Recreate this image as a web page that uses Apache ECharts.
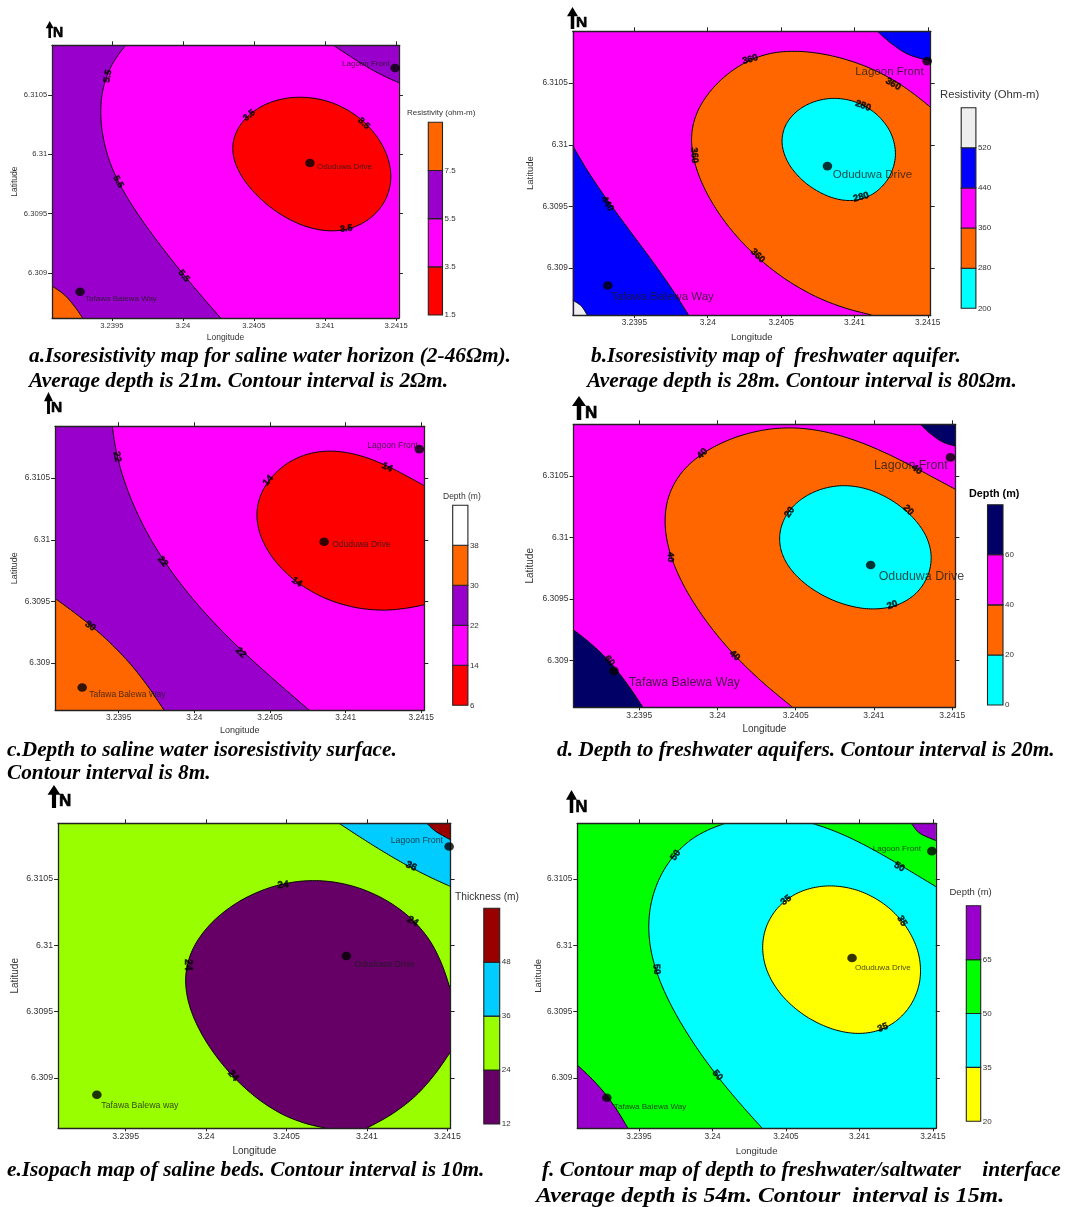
<!DOCTYPE html>
<html><head><meta charset="utf-8">
<style>html,body{margin:0;padding:0;background:#fff}#c{width:1067px;height:1207px}</style>
<script src="https://cdn.jsdelivr.net/npm/echarts@6/dist/echarts.min.js"></script>
</head><body><div id="c"></div>
<script>
const lonMin=3.23908, lonMax=3.24152, latMin=6.30862, latMax=6.31092;
const lonTicks=[3.2395,3.24,3.2405,3.241,3.2415];
const latTicks=[6.309,6.3095,6.31,6.3105];
const TL=[lonMin,latMax], TR=[lonMax,latMax], BR=[lonMax,latMin], BL=[lonMin,latMin];

/* ---- a ---- */
const aBreaks=[1.5,3.5,5.5,7.5,9.5];
const aColors=['#ff0000','#ff00ff','#9900cc','#ff6600'];
const aLeft=[[3.239597,6.31092],[3.239524,6.310823],[3.239464,6.310669],[3.239431,6.310486],[3.239424,6.310346],[3.239441,6.310149],[3.239481,6.309952],[3.239547,6.30977],[3.239654,6.309545],[3.239784,6.309334],[3.239974,6.309025],[3.240116,6.308828],[3.240266,6.30862]];
const aCorner=[[3.241059,6.31092],[3.241183,6.310823],[3.241301,6.310739],[3.241396,6.31066],[3.24152,6.310604]];
const aPatch=[[3.23908,6.30889],[3.239168,6.308814],[3.239239,6.308716],[3.239294,6.30862]];
const aCore=[[3.240356,6.310022],[3.240377,6.310163],[3.24046,6.310332],[3.24059,6.310436],[3.240804,6.310483],[3.240993,6.310458],[3.241183,6.31036],[3.241325,6.310205],[3.241432,6.310008],[3.241467,6.309812],[3.241432,6.309615],[3.241325,6.309475],[3.241183,6.309385],[3.241041,6.309357],[3.240851,6.309396],[3.240661,6.309503],[3.240495,6.309685],[3.240389,6.309882]];
const aSites=[[3.241493,6.310728],[3.240894,6.309927],[3.239277,6.308842]];
const aSiteNames=['Lagoon Front','Oduduwa Drive','Tafawa Balewa Way'];
const aMarks=[[3.239472,6.31066],[3.239545,6.30977],[3.240007,6.308974],[3.240467,6.310329],[3.241273,6.310261],[3.24115,6.309373]];
const aMarkText=['5.5','5.5','5.5','3.5','3.5','3.5'];

/* ---- b ---- */
const bBreaks=[200,280,360,440,520,600];
const bColors=['#00ffff','#ff6600','#ff00ff','#0000ff','#eeeeee'];
const bLeft=[[3.23908,6.309992],[3.239162,6.309822],[3.23929,6.309578],[3.239465,6.309308],[3.239652,6.309024],[3.239768,6.308808],[3.239869,6.30862]];
const bCorner=[[3.241157,6.31092],[3.241251,6.310822],[3.241367,6.310733],[3.24152,6.310678]];
const bPatch=[[3.23908,6.30874],[3.239138,6.308692],[3.239178,6.30862]];
const bMid=[[3.24152,6.310303],[3.241402,6.310416],[3.241262,6.310524],[3.241099,6.310633],[3.240889,6.310714],[3.240702,6.310746],[3.240562,6.310749],[3.240422,6.310733],[3.240282,6.310687],[3.240142,6.310578],[3.240002,6.310416],[3.23992,6.310241],[3.239897,6.310065],[3.239913,6.309876],[3.239978,6.309632],[3.240119,6.309362],[3.240305,6.309132],[3.240492,6.308943],[3.240725,6.308767],[3.240935,6.308673],[3.241117,6.30862]];
const bCore=[[3.240504,6.310011],[3.240527,6.310132],[3.240597,6.310268],[3.240725,6.310349],[3.240865,6.310373],[3.241005,6.310349],[3.241145,6.310254],[3.241251,6.310105],[3.241288,6.30993],[3.241251,6.309741],[3.241145,6.309619],[3.241029,6.309565],[3.240935,6.309557],[3.240795,6.309592],[3.240655,6.3097],[3.24055,6.309835]];
const bSites=[[3.241496,6.310678],[3.240816,6.309827],[3.239318,6.308859]];
const bSiteNames=['Lagoon Front','Oduduwa Drive','Tafawa Balewa Way'];
const bMarks=[[3.240289,6.310692],[3.241264,6.310492],[3.239908,6.309914],[3.24034,6.3091],[3.241059,6.310316],[3.241045,6.309576],[3.239316,6.309522]];
const bMarkText=['360','360','360','360','280','280','440'];

/* ---- c ---- */
const cBreaks=[6,14,22,30,38,46];
const cColors=['#ff0000','#ff00ff','#9900cc','#ff6600','#ffffff'];
const cLeft=[[3.239458,6.31092],[3.239475,6.310754],[3.23952,6.310538],[3.239598,6.310295],[3.239698,6.310024],[3.239832,6.309768],[3.239988,6.309524],[3.240167,6.309295],[3.240323,6.309078],[3.240501,6.308903],[3.240758,6.30862]];
const cPatch=[[3.23908,6.309524],[3.239186,6.30943],[3.239308,6.309308],[3.239453,6.309159],[3.239587,6.308984],[3.239698,6.308808],[3.239799,6.30862]];
const cCore=[[3.24152,6.310438],[3.241393,6.310524],[3.241259,6.310605],[3.241126,6.310673],[3.240992,6.310708],[3.240869,6.310714],[3.240724,6.310687],[3.240613,6.310619],[3.240501,6.310497],[3.240434,6.310335],[3.240417,6.3102],[3.240446,6.310024],[3.240524,6.309835],[3.240669,6.309659],[3.240858,6.309524],[3.241059,6.309451],[3.241237,6.309432],[3.241393,6.309443],[3.24152,6.309473]];
const cSites=[[3.241487,6.310735],[3.240858,6.309984],[3.239259,6.308803]];
const cSiteNames=['Lagoon Front','Oduduwa Drive','Tafawa Balewa Way'];
const cMarks=[[3.239489,6.310673],[3.239792,6.309824],[3.240307,6.309086],[3.239313,6.3093],[3.240488,6.310481],[3.241275,6.310587],[3.240677,6.309657]];
const cMarkText=['22','22','22','30','14','14','14'];

/* ---- d ---- */
const dBreaks=[0,20,40,60,80];
const dColors=['#00ffff','#ff6600','#ff00ff','#000066'];
const dPatch=[[3.23908,6.309249],[3.239185,6.30914],[3.239305,6.309005],[3.239415,6.308843],[3.239524,6.30862]];
const dCorner=[[3.241296,6.31092],[3.241362,6.310843],[3.241439,6.310776],[3.24152,6.310743]];
const dMid=[[3.24152,6.310392],[3.241384,6.310487],[3.241253,6.310568],[3.241099,6.310668],[3.240924,6.310776],[3.240727,6.310851],[3.240552,6.310881],[3.240399,6.310884],[3.240246,6.310857],[3.240071,6.310789],[3.239896,6.310681],[3.239765,6.310519],[3.239688,6.31033],[3.239668,6.310114],[3.239699,6.309857],[3.239787,6.3096],[3.239918,6.309357],[3.240093,6.309059],[3.240268,6.30883],[3.24048,6.30862]];
const dCore=[[3.240401,6.309992],[3.240421,6.310127],[3.240476,6.310249],[3.240574,6.310343],[3.240706,6.310403],[3.240826,6.310416],[3.240968,6.310392],[3.241121,6.310303],[3.241253,6.310154],[3.24134,6.309992],[3.241362,6.309857],[3.24134,6.309668],[3.241253,6.309519],[3.241121,6.309443],[3.240957,6.309419],[3.240771,6.309465],[3.240596,6.309586],[3.240476,6.309735],[3.240421,6.309857]];
const dSites=[[3.241489,6.310651],[3.240979,6.309776],[3.239338,6.308916]];
const dSiteNames=['Lagoon Front','Oduduwa Drive','Tafawa Balewa Way'];
const dMarks=[[3.239903,6.310681],[3.241274,6.310551],[3.239703,6.309841],[3.24011,6.30904],[3.23931,6.308997],[3.240461,6.310205],[3.24122,6.310222],[3.241117,6.309451]];
const dMarkText=['40','40','40','40','60','20','20','20'];

/* ---- e ---- */
const eBreaks=[12,24,36,48,60];
const eColors=['#660066','#99ff00','#00ccff','#990000'];
const eBand=[[3.240826,6.31092],[3.240945,6.310825],[3.241093,6.310715],[3.24124,6.310606],[3.241387,6.310513],[3.24152,6.310443]];
const eCorner=[[3.241372,6.31092],[3.241429,6.310858],[3.24152,6.310795]];
const eCoreUpper=[[3.24152,6.309663],[3.241471,6.309877],[3.241387,6.31004],[3.241282,6.310191],[3.241135,6.31033],[3.240988,6.310418],[3.240819,6.310468],[3.240672,6.310483],[3.240525,6.310468],[3.240357,6.310418],[3.240189,6.310317],[3.240021,6.310166],[3.239916,6.309965],[3.239876,6.309763],[3.239895,6.309562],[3.239979,6.309311],[3.240126,6.309059],[3.240294,6.30887],[3.240462,6.308732],[3.240609,6.308656],[3.240746,6.30862]];
const eCoreLower=[[3.240998,6.30862],[3.241156,6.308707],[3.241303,6.308858],[3.241429,6.309034],[3.24152,6.309197]];
const eSites=[[3.241511,6.310745],[3.240872,6.309919],[3.239321,6.308873]];
const eSiteNames=['Lagoon Front','Oduduwa Drive','Tafawa Balewa way'];
const eMarks=[[3.241275,6.310596],[3.240479,6.310455],[3.241284,6.310181],[3.239889,6.309852],[3.240168,6.309016]];
const eMarkText=['36','24','24','24','24'];

/* ---- f ---- */
const fBreaks=[20,35,50,65,80];
const fColors=['#ffff00','#00ffff','#00ff00','#9900cc'];
const fPatch=[[3.23908,6.309097],[3.239174,6.309009],[3.239279,6.30887],[3.23936,6.308745],[3.239425,6.30862]];
const fCorner=[[3.241353,6.31092],[3.241411,6.310845],[3.24152,6.31079]];
const fMidUpper=[[3.24152,6.310443],[3.241388,6.310531],[3.241248,6.310619],[3.241085,6.310732],[3.240922,6.31082],[3.240782,6.310883],[3.240677,6.31092]];
const fMidLower=[[3.240087,6.31092],[3.239966,6.310871],[3.23985,6.310795],[3.239733,6.310669],[3.23964,6.310518],[3.239582,6.310317],[3.23957,6.310141],[3.239589,6.30994],[3.23964,6.309738],[3.239733,6.309512],[3.239873,6.30926],[3.240036,6.309009],[3.240176,6.30882],[3.240339,6.30862]];
const fCore=[[3.240344,6.30999],[3.240374,6.310141],[3.240467,6.310317],[3.240596,6.310405],[3.240805,6.31045],[3.240992,6.310418],[3.241178,6.310304],[3.241318,6.310141],[3.2414,6.30994],[3.241416,6.309763],[3.241365,6.309562],[3.241248,6.309424],[3.241108,6.309361],[3.240969,6.309341],[3.240805,6.309374],[3.240619,6.309474],[3.240456,6.309625],[3.240374,6.309814]];
const fSites=[[3.241493,6.31071],[3.24095,6.309904],[3.239281,6.30885]];
const fSiteNames=['Lagoon Front','Oduduwa Drive','Tafawa Balewa Way'];
const fMarks=[[3.239749,6.310679],[3.241272,6.310591],[3.239619,6.309819],[3.240034,6.309019],[3.240502,6.31034],[3.24129,6.310184],[3.24116,6.309379]];
const fMarkText=['50','50','50','50','35','35','35'];

const captions=[
 ['a.Isoresistivity map for saline water horizon (2-46\u03a9m).',29,356,21.35,1],
 ['Average depth is 21m. Contour interval is 2\u03a9m.',29,381,21.4,1],
 ['b.Isoresistivity map of  freshwater aquifer.',591,356,21.3,1],
 ['Average depth is 28m. Contour interval is 80\u03a9m.',587,381,21.4,1],
 ['c.Depth to saline water isoresistivity surface.',7,750,21.3,1],
 ['Contour interval is 8m.',7,773,21.3,1],
 ['d. Depth to freshwater aquifers. Contour interval is 20m.',557,750,21.3,1],
 ['e.Isopach map of saline beds. Contour interval is 10m.',7,1170,21.3,1],
 ['f. Contour map of depth to freshwater/saltwater    interface',542,1170,21.4,1],
 ['Average depth is 54m. Contour  interval is 15m.',536,1196,21.4,1.117]
];

/* layout and styling, separate from the values above */
const panels=[
 {rect:[52.1,45.3,346.8,272.7],lg:[428.3,122.3,14.2,192.7],breaks:aBreaks,colors:aColors,
  title:['Resistivity (ohm-m)',407,112.7,8,'normal'],axisFont:7.6,nameFont:8.5,nameGapX:15,nameGapY:33,siteFont:8,markFont:9,
  regions:[{fill:aColors[1],corners:[TL,TR,BR,BL]},{fill:aColors[2],segs:[aLeft],corners:[BL,TL]},{fill:aColors[2],segs:[aCorner],corners:[TR]},{fill:aColors[3],segs:[aPatch],corners:[BL]},{fill:aColors[0],segs:[aCore],ring:true}],
  sites:aSites,names:aSiteNames,offs:[[-53,-4],[7,3.5],[5,7]],marks:aMarks,text:aMarkText,angles:[80,-60,-50,40,-45,5],
  north:[49.7,21,38,8,53,33,14]},
 {rect:[572.8,31.3,357.9,283.7],lg:[961.2,107.7,14.7,200.6],breaks:bBreaks,colors:bColors,
  title:['Resistivity (Ohm-m)',940,94.7,11.3,'normal'],axisFont:8.3,nameFont:9.5,nameGapX:17,nameGapY:37,siteFont:11.5,markFont:9.5,
  regions:[{fill:bColors[2],corners:[TL,TR,BR,BL]},{fill:bColors[3],segs:[bLeft],corners:[BL]},{fill:bColors[3],segs:[bCorner],corners:[TR]},{fill:bColors[4],segs:[bPatch],corners:[BL]},{fill:bColors[1],segs:[bMid],corners:[BR]},{fill:bColors[0],segs:[bCore],ring:true}],
  sites:bSites,names:bSiteNames,offs:[[-72,10.7],[5.4,8.7],[3,11.4]],marks:bMarks,text:bMarkText,angles:[15,-30,-85,-45,-20,15,-60],
  north:[572.5,7,29,11,576,22.5,15.5]},
 {rect:[55.1,426.3,369.2,283.7],lg:[452.7,505.3,15.2,200],breaks:cBreaks,colors:cColors,
  title:['Depth (m)',443,496.7,8.5,'normal'],axisFont:8.3,nameFont:9,nameGapX:16,nameGapY:36,siteFont:8.5,markFont:9.5,
  regions:[{fill:cColors[1],corners:[TL,TR,BR,BL]},{fill:cColors[2],segs:[cLeft],corners:[BL,TL]},{fill:cColors[3],segs:[cPatch],corners:[BL]},{fill:cColors[0],segs:[cCore]}],
  sites:cSites,names:cSiteNames,offs:[[-52,-3.3],[8,3],[7,7.4]],marks:cMarks,text:cMarkText,angles:[-80,-50,-45,-35,50,-25,-35],
  north:[48.5,392,414,9,51,407.5,15.5]},
 {rect:[573.5,424.3,381.8,283],lg:[987.5,504.7,15.5,200.3],breaks:dBreaks,colors:dColors,
  title:['Depth (m)',969,493.7,10.8,'bold'],axisFont:8.5,nameFont:10,nameGapX:17,nameGapY:38,siteFont:12.4,markFont:9.5,
  regions:[{fill:dColors[2],corners:[TL,TR,BR,BL]},{fill:dColors[3],segs:[dPatch],corners:[BL]},{fill:dColors[3],segs:[dCorner],corners:[TR]},{fill:dColors[1],segs:[dMid],corners:[BR]},{fill:dColors[0],segs:[dCore],ring:true}],
  sites:dSites,names:dSiteNames,offs:[[-76.5,7.7],[8,11.7],[15,11.7]],marks:dMarks,text:dMarkText,angles:[45,-35,-90,-40,-50,55,-45,20],
  north:[579,396,420,14,585,413,17]},
 {rect:[58.1,823.3,392.5,305],lg:[483.8,908.3,15.9,215.7],breaks:eBreaks,colors:eColors,
  title:['Thickness (m)',455,896.7,10.2,'normal'],axisFont:8.8,nameFont:10,nameGapX:18,nameGapY:38,siteFont:8.8,markFont:10,
  regions:[{fill:eColors[1],corners:[TL,TR,BR,BL]},{fill:eColors[2],segs:[eBand],corners:[TR]},{fill:eColors[3],segs:[eCorner],corners:[TR]},{fill:eColors[0],segs:[eCoreUpper,eCoreLower]}],
  sites:eSites,names:eSiteNames,offs:[[-58.5,-6.4],[8,9],[4.4,10.6]],marks:eMarks,text:eMarkText,angles:[-25,5,-30,-90,-50],
  north:[54,785,808,13,59,801,17]},
 {rect:[577.3,823.3,358.5,305],lg:[966.3,905.7,14.4,215.6],breaks:fBreaks,colors:fColors,
  title:['Depth (m)',949.5,892,9.5,'normal'],axisFont:8.3,nameFont:9.5,nameGapX:18,nameGapY:34,siteFont:8.1,markFont:9.5,
  regions:[{fill:fColors[2],corners:[TL,TR,BR,BL]},{fill:fColors[3],segs:[fPatch],corners:[BL]},{fill:fColors[3],segs:[fCorner],corners:[TR]},{fill:fColors[1],segs:[fMidUpper,fMidLower],corners:[BR]},{fill:fColors[0],segs:[fCore],ring:true}],
  sites:fSites,names:fSiteNames,offs:[[-59,-2],[3,10],[7,8.7]],marks:fMarks,text:fMarkText,angles:[55,-30,-85,-50,40,-60,20],
  north:[571.5,790,813,11,575.5,807,16.5]}
];

const SANS='"Liberation Sans", Arial, sans-serif', INK='#222', TXT='#333';

/* fairing of the hand-read control points so the drawn contour has no wobble */
function fair(pts,ring){
  let cur=pts.map(q=>q.slice());
  const n=cur.length;
  if(n<5) return cur;
  for(let it=0;it<6;it++){
    [0.5,-0.51].forEach(l=>{
      cur=cur.map((q,i)=>{
        if(!ring&&(i===0||i===n-1)) return q;
        const a=cur[(i-1+n)%n],b=cur[(i+1)%n];
        return [q[0]+l*((a[0]+b[0])/2-q[0]),q[1]+l*((a[1]+b[1])/2-q[1])];
      });
    });
  }
  return cur;
}
function spline(raw,ring){
  const pts=fair(raw,ring);
  const n=pts.length,out=[];
  const at=i=>ring?pts[(i+n)%n]:pts[Math.max(0,Math.min(n-1,i))];
  const last=ring?n:n-1;
  for(let i=0;i<last;i++){
    const p0=at(i-1),p1=at(i),p2=at(i+1),p3=at(i+2);
    for(let k=0;k<14;k++){
      const t=k/14,t2=t*t,t3=t2*t;
      out.push([0,1].map(d=>0.5*(2*p1[d]+(p2[d]-p0[d])*t+(2*p0[d]-5*p1[d]+4*p2[d]-p3[d])*t2+(3*p1[d]-p0[d]-3*p2[d]+p3[d])*t3)));
    }
  }
  if(!ring) out.push(pts[n-1].slice()); else out.push(out[0].slice());
  return out;
}

const grid=[],xAxis=[],yAxis=[],series=[],gfx=[];
const frame={lineStyle:{color:INK,width:1.3}};
panels.forEach(p=>{
  const g=grid.length;
  grid.push({left:p.rect[0],top:p.rect[1],width:p.rect[2],height:p.rect[3]});
  const xi=xAxis.length,yi=yAxis.length;
  const fmt=v=>String(+(+v).toFixed(4));
  xAxis.push({type:'value',gridIndex:g,position:'bottom',min:lonMin,max:lonMax,z:4,
    name:'Longitude',nameLocation:'middle',nameGap:p.nameGapX,nameTextStyle:{color:TXT,fontFamily:SANS,fontSize:p.nameFont},
    axisLine:{show:true,onZero:false,...frame},splitLine:{show:false},
    axisTick:{show:true,customValues:lonTicks,length:3,lineStyle:{color:INK}},
    axisLabel:{show:true,customValues:lonTicks,formatter:fmt,margin:4,color:TXT,fontFamily:SANS,fontSize:p.axisFont,hideOverlap:false}});
  xAxis.push({type:'value',gridIndex:g,position:'top',min:lonMin,max:lonMax,z:4,
    axisLine:{show:true,onZero:false,...frame},splitLine:{show:false},
    axisTick:{show:true,customValues:lonTicks,length:4,lineStyle:{color:INK}},axisLabel:{show:false}});
  yAxis.push({type:'value',gridIndex:g,position:'left',min:latMin,max:latMax,z:4,
    name:'Latitude',nameLocation:'middle',nameGap:p.nameGapY,nameTextStyle:{color:TXT,fontFamily:SANS,fontSize:p.nameFont},
    axisLine:{show:true,onZero:false,...frame},splitLine:{show:false},
    axisTick:{show:true,customValues:latTicks,length:4,lineStyle:{color:INK}},
    axisLabel:{show:true,customValues:latTicks,formatter:fmt,margin:5,color:TXT,fontFamily:SANS,fontSize:p.axisFont,hideOverlap:false}});
  yAxis.push({type:'value',gridIndex:g,position:'right',min:latMin,max:latMax,z:4,
    axisLine:{show:true,onZero:false,...frame},splitLine:{show:false},
    axisTick:{show:true,customValues:latTicks,length:4,lineStyle:{color:INK}},axisLabel:{show:false}});

  p.regions.forEach(r=>{
    const segs=r.segs||[];
    const flat=segs.length?segs.reduce((a,s)=>a.concat(s),[]):r.corners;
    series.push({type:'custom',xAxisIndex:xi,yAxisIndex:yi,coordinateSystem:'cartesian2d',clip:true,silent:true,z:2,
      encode:{x:0,y:1},data:flat,
      renderItem:(params,api)=>{
        if(params.dataIndex!==0) return null;
        const px=q=>api.coord(q);
        const curves=segs.map(s=>spline(s.map(px),!!r.ring));
        const ringPts=curves.reduce((a,c)=>a.concat(c),[]).concat((r.corners||[]).map(px));
        const kids=[{type:'polygon',shape:{points:ringPts},style:{fill:r.fill,stroke:null}}];
        curves.forEach(c=>kids.push({type:'polyline',shape:{points:c},style:{fill:null,stroke:'#000',lineWidth:1}}));
        return {type:'group',children:kids};
      }});
  });

  series.push({type:'scatter',xAxisIndex:xi,yAxisIndex:yi,symbolSize:0,silent:true,clip:false,z:5,
    data:p.marks.map((m,i)=>({name:p.text[i],value:m,label:{rotate:p.angles[i]}})),
    label:{show:true,position:'inside',formatter:'{b}',color:'#000',fontFamily:SANS,fontWeight:'bold',fontSize:p.markFont,textBorderColor:'#000',textBorderWidth:0.5}});
  series.push({type:'scatter',xAxisIndex:xi,yAxisIndex:yi,symbol:'circle',symbolSize:[9.6,8.6],silent:true,clip:false,z:6,
    itemStyle:{color:'#000'},
    data:p.sites.map((m,i)=>({name:p.names[i],value:m,label:{offset:p.offs[i]}})),
    label:{show:true,position:'inside',align:'left',verticalAlign:'middle',formatter:'{b}',color:'#1a1a1a',fontFamily:SANS,fontSize:p.siteFont}});

  /* colour bar */
  const lg=grid.length;
  grid.push({left:p.lg[0],top:p.lg[1],width:p.lg[2],height:p.lg[3]});
  const lx=xAxis.length,ly=yAxis.length;
  xAxis.push({type:'value',gridIndex:lg,min:0,max:1,show:false});
  yAxis.push({type:'value',gridIndex:lg,position:'right',min:p.breaks[0],max:p.breaks[p.breaks.length-1],
    axisLine:{show:false},axisTick:{show:false,customValues:p.breaks.slice(0,-1)},splitLine:{show:false},
    axisLabel:{show:true,customValues:p.breaks.slice(0,-1),formatter:v=>String(v),margin:2,color:TXT,fontFamily:SANS,fontSize:8,hideOverlap:false}});
  series.push({type:'custom',xAxisIndex:lx,yAxisIndex:ly,coordinateSystem:'cartesian2d',silent:true,clip:false,z:2,
    encode:{y:[0,1]},data:p.colors.map((c,i)=>[p.breaks[i],p.breaks[i+1]]),
    renderItem:(params,api)=>{
      const a=api.coord([0,api.value(1)]),b=api.coord([1,api.value(0)]);
      return {type:'rect',shape:{x:a[0],y:a[1],width:b[0]-a[0],height:b[1]-a[1]},
        style:{fill:p.colors[params.dataIndex],stroke:'#222',lineWidth:1.1}};
    }});

  /* legend title and north mark */
  const t=p.title;
  gfx.push({type:'text',silent:true,style:{text:t[0],x:t[1],y:t[2],fill:p===panels[3]?'#000':TXT,verticalAlign:'middle',font:t[4]+' '+t[3]+'px '+SANS}});
  const [ax,top,bot,hw,nx,ny,ns]=p.north,hh=(bot-top)*0.42,sw=Math.max(1.3,hw*0.16);
  gfx.push({type:'polygon',silent:true,shape:{points:[[ax,top],[ax+hw/2,top+hh],[ax+sw,top+hh],[ax+sw,bot],[ax-sw,bot],[ax-sw,top+hh],[ax-hw/2,top+hh]]},style:{fill:'#000'}});
  gfx.push({type:'text',silent:true,style:{text:'N',x:nx,y:ny,fill:'#000',stroke:'#000',lineWidth:0.6,verticalAlign:'middle',font:'bold '+ns+'px '+SANS}});
});
captions.forEach(c=>gfx.push({type:'text',silent:true,x:c[1],y:c[2],scaleX:c[4],style:{text:c[0],x:0,y:0,fill:'#000',verticalAlign:'middle',font:'italic bold '+c[3]+'px "Liberation Serif", serif'}}));

const chart=echarts.init(document.getElementById('c'),null,{renderer:'canvas',width:1067,height:1207});
chart.setOption({backgroundColor:'#fff',animation:false,grid,xAxis,yAxis,series,graphic:{elements:gfx}});
</script></body></html>
